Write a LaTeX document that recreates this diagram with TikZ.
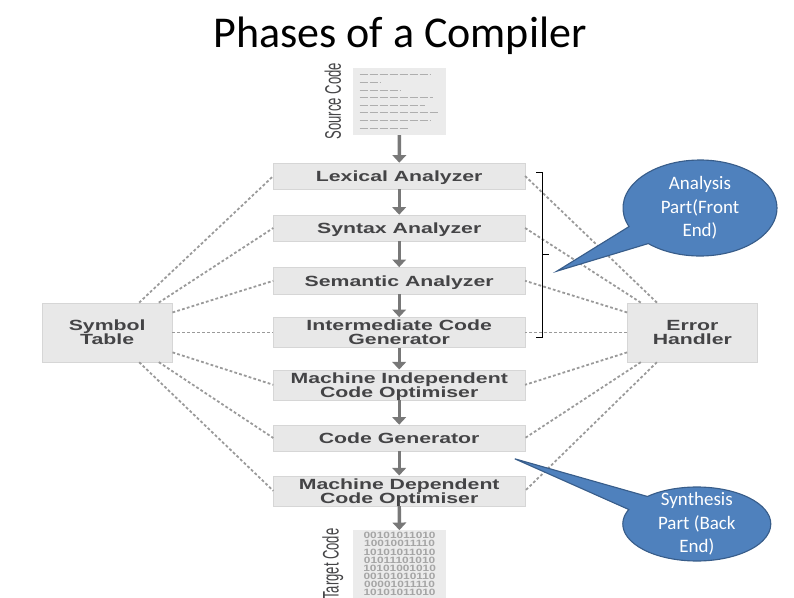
\documentclass[tikz,border=0pt]{standalone}
\usepackage{fontspec}
\usepackage{xcolor}
\usepackage{tikz}
\setmainfont{Carlito}
\newfontfamily\phasefont[FakeStretch=1.44]{Liberation Sans Bold}
\newfontfamily\bitfont[FakeStretch=1.3]{Liberation Sans Bold}
\newfontfamily\sidefont[FakeStretch=0.58]{Liberation Sans}
\usetikzlibrary{arrows.meta,positioning,shapes.callouts}
\definecolor{phfill}{RGB}{232,232,232}
\definecolor{phedge}{RGB}{214,214,214}
\definecolor{phtext}{RGB}{68,68,70}
\definecolor{phgrey}{RGB}{120,120,120}
\definecolor{phbits}{RGB}{165,165,165}
\definecolor{calfill}{RGB}{79,129,189}
\definecolor{caledge}{RGB}{56,93,138}
\tikzset{
  phbox/.style={draw=phedge, fill=phfill, align=center, text=phtext, minimum width=6.28cm, inner sep=0pt, text depth=0pt,
    font=\phasefont\fontsize{10.5}{9.8}\selectfont},
  sidebox/.style={phbox, minimum width=3.25cm, minimum height=1.475cm},
  docbox/.style={fill=phfill!85!white, minimum width=2.33cm, minimum height=1.68cm, inner sep=0pt},
  sidelab/.style={rotate=90, text=phtext, font=\sidefont\fontsize{16}{16}\selectfont},
  pharr/.style={-{Triangle[length=1.9mm,width=3.4mm]}, line width=.85mm, draw=phgrey},
  dotlink/.style={draw=phgrey!75, line width=.45mm, dash pattern=on .7mm off .55mm},
  calbub/.style={ellipse callout, draw=caledge, thick, fill=calfill, text=white, align=center,
    inner sep=-.45cm, callout pointer arc=25, font=\fontsize{13.5}{16.8}\selectfont}
}
\begin{document}
\begin{tikzpicture}
  \useasboundingbox (0,0) rectangle (19.85,-14.95);
  \node (title) at (10,-.9) {\fontsize{31.3}{31.3}\selectfont Phases of a Compiler};
  % documents
  \node[docbox] (src) at (9.99,-2.53) {};
  \node[docbox] (tgt) at (9.99,-14.1) {};
  \node[sidelab] (srclab) at ([xshift=-.5cm]src.west) {Source Code};
  \node[sidelab] (tgtlab) at ([xshift=-.5cm]tgt.west) {Target Code};
  \foreach \i/\len in {0/1.79,1/.54,2/1.04,3/1.83,4/1.63,5/1.95,6/1.79,7/1.2}
    \draw[phgrey!60, line width=.25mm, dash pattern=on 2mm off .5mm]
      ([xshift=.17cm, yshift=-.19cm-\i*.19cm]src.north west) -- ++(\len,0);
  \node[at=(tgt.center), align=center, text=phbits, font=\bitfont\fontsize{6.5}{5.75}\selectfont] (bits)
    {00101011010\\10010011110\\10101011010\\01011101010\\10101001010\\00101010110\\00001011110\\10101011010};
  % phases
  \node[phbox, minimum height=.65cm] (lex) at (9.98,-4.4) {Lexical Analyzer};
  \node[phbox, minimum height=.65cm] (syn) at (9.98,-5.7) {Syntax Analyzer};
  \node[phbox, minimum height=.67cm] (sem) at (9.98,-7.02) {Semantic Analyzer};
  \node[phbox, minimum height=.75cm] (inter) at (9.98,-8.31) {Intermediate Code\\Generator};
  \node[phbox, minimum height=.75cm] (mio) at (9.98,-9.62) {Machine Independent\\Code Optimiser};
  \node[phbox, minimum height=.65cm] (cgen) at (9.98,-10.95) {Code Generator};
  \node[phbox, minimum height=.75cm] (mdo) at (9.98,-12.27) {Machine Dependent\\Code Optimiser};
  \node[sidebox] (sym) at (2.68,-8.31) {Symbol\\Table};
  \node[sidebox] (err) at (17.31,-8.31) {Error\\Handler};
  % links
  \foreach \a/\b in {src/lex,lex/syn,syn/sem,sem/inter,inter/mio,mio/cgen,cgen/mdo,mdo/tgt}
    \draw[pharr] (\a) -- (\b);
  \foreach \ph/\angs/\ange in {lex/43/140,syn/30/150,sem/17/163,inter/0/180,mio/-17/197,cgen/-30/210,mdo/-43/220} {
    \draw[dotlink] (sym.\angs) -- (\ph.west);
    \draw[dotlink] (err.\ange) -- (\ph.east);
  }
  % bracket
  \coordinate (brtop) at (13.4,-4.3);
  \coordinate (brbot) at (13.4,-8.43);
  \coordinate (brmid) at (13.56,-6.35);
  \draw[black, line width=.25mm] (brtop) -| (brmid) |- (brbot);
  \draw[black, line width=.25mm] (brmid) -- ++(.16,0);
  % callouts
  \node[calbub, minimum width=3.85cm, minimum height=2.4cm, callout absolute pointer={(13.92,-6.78)}] (front) at (17.5,-5.2) {Analysis\\Part(Front\\End)};
  \node[calbub, minimum width=3.7cm, minimum height=1.85cm, callout absolute pointer={(12.87,-11.47)}] (back) at (17.42,-13.1) {Synthesis\\Part (Back\\End)};
\end{tikzpicture}
\end{document}
